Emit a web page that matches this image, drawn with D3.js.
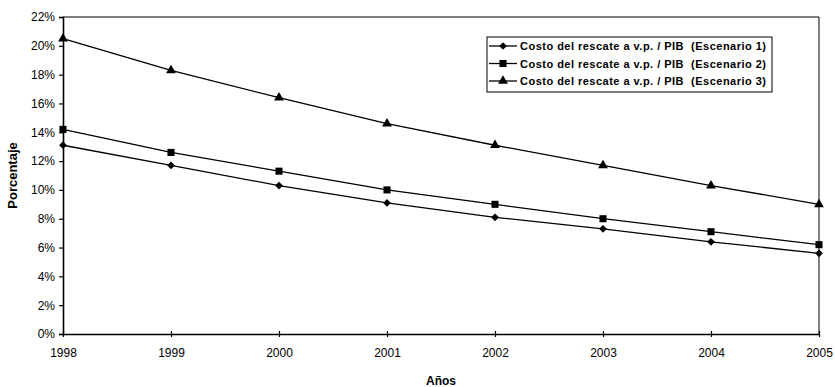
<!DOCTYPE html>
<html>
<head>
<meta charset="utf-8">
<script src="https://cdn.jsdelivr.net/npm/d3@7"></script>
<style>
  body { margin: 0; background: #fff; }
  svg { display: block; font-family: "Liberation Sans", Arial, sans-serif; }
</style>
</head>
<body>
<svg id="chart" width="835" height="387"></svg>
<script>
const years = [1998, 1999, 2000, 2001, 2002, 2003, 2004, 2005];
const escenario1 = [13.1, 11.7, 10.3, 9.1, 8.1, 7.3, 6.4, 5.6];
const escenario2 = [14.2, 12.6, 11.3, 10.0, 9.0, 8.0, 7.1, 6.2];
const escenario3 = [20.5, 18.3, 16.4, 14.6, 13.1, 11.7, 10.3, 9.0];
const yTicks = [0, 2, 4, 6, 8, 10, 12, 14, 16, 18, 20, 22];
const seriesNames = [
  'Costo del rescate a v.p. / PIB  (Escenario 1)',
  'Costo del rescate a v.p. / PIB  (Escenario 2)',
  'Costo del rescate a v.p. / PIB  (Escenario 3)'
];

// diamonds are drawn as squares turned 45 degrees
const series = [
  { name: seriesNames[0], values: escenario1, symbol: d3.symbolSquare, size: 30, rot: 45 },
  { name: seriesNames[1], values: escenario2, symbol: d3.symbolSquare, size: 50, rot: 0 },
  { name: seriesNames[2], values: escenario3, symbol: d3.symbolTriangle, size: 42, rot: 0 }
];

const svg = d3.select('#chart');
const plotL = 63, plotR = 819, plotT = 17, plotB = 334;

const x = d3.scaleLinear().domain([1998, 2005]).range([plotL, plotR]);
const y = d3.scaleLinear().domain([0, 22]).range([plotB, plotT]);

// plot frame (top and right)
svg.append('path')
  .attr('d', `M${plotL},${plotT}H${plotR}V${plotB}`)
  .attr('fill', 'none')
  .attr('stroke', '#000')
  .attr('stroke-width', 1);

// y axis
const yAxis = svg.append('g')
  .attr('transform', `translate(${plotL},0)`)
  .call(d3.axisLeft(y).tickValues(yTicks).tickSize(4).tickPadding(4).tickFormat(d => d + '%'));
yAxis.select('.domain').attr('stroke-width', 1.6);
yAxis.selectAll('.tick line').attr('stroke-width', 1.2);
yAxis.selectAll('text').attr('font-size', 12).attr('fill', '#000')
  .style('font-family', '"Liberation Sans", Arial, sans-serif');

// x axis
const xAxis = svg.append('g')
  .attr('transform', `translate(0,${plotB})`)
  .call(d3.axisBottom(x).tickValues(years).tickSize(0).tickPadding(14).tickFormat(d3.format('d')));
xAxis.select('.domain').attr('stroke-width', 1.6);
xAxis.selectAll('.tick').append('line')
  .attr('y1', -3).attr('y2', 3)
  .attr('stroke', '#000').attr('stroke-width', 1.2);
xAxis.selectAll('text').attr('font-size', 12).attr('fill', '#000')
  .style('font-family', '"Liberation Sans", Arial, sans-serif');

// axis titles
svg.append('text')
  .attr('transform', `translate(17,${(plotT + plotB) / 2}) rotate(-90)`)
  .attr('text-anchor', 'middle')
  .attr('font-size', 13).attr('font-weight', 'bold')
  .text('Porcentaje');

svg.append('text')
  .attr('x', (plotL + plotR) / 2).attr('y', 385)
  .attr('text-anchor', 'middle')
  .attr('font-size', 12).attr('font-weight', 'bold')
  .text('Años');

// lines and markers
const line = d3.line()
  .x((d, i) => x(years[i]))
  .y(d => y(d));

series.forEach(s => {
  svg.append('path')
    .datum(s.values)
    .attr('d', line)
    .attr('fill', 'none')
    .attr('stroke', '#000')
    .attr('stroke-width', 1.3);

  svg.append('g').selectAll('path')
    .data(s.values)
    .enter().append('path')
    .attr('transform', (d, i) => `translate(${x(years[i])},${y(d)}) rotate(${s.rot})`)
    .attr('d', d3.symbol().type(s.symbol).size(s.size))
    .attr('fill', '#000');
});

// legend
const legend = svg.append('g').attr('transform', 'translate(487,37)');
legend.append('rect')
  .attr('width', 285).attr('height', 55)
  .attr('fill', '#fff').attr('stroke', '#000').attr('stroke-width', 1);

const rows = legend.selectAll('g.row')
  .data(series)
  .enter().append('g')
  .attr('transform', (d, i) => `translate(0,${9 + i * 17.5})`);

rows.append('line')
  .attr('x1', 2).attr('x2', 30)
  .attr('stroke', '#000').attr('stroke-width', 1.3);
rows.append('path')
  .attr('transform', d => `translate(16,0) rotate(${d.rot})`)
  .attr('d', d => d3.symbol().type(d.symbol).size(d.size)())
  .attr('fill', '#000');
rows.append('text')
  .attr('x', 33).attr('y', 4)
  .attr('font-size', 11).attr('font-weight', 'bold')
  .attr('textLength', 246).attr('lengthAdjust', 'spacing')
  .style('white-space', 'pre')
  .text(d => d.name);
</script>
</body>
</html>
